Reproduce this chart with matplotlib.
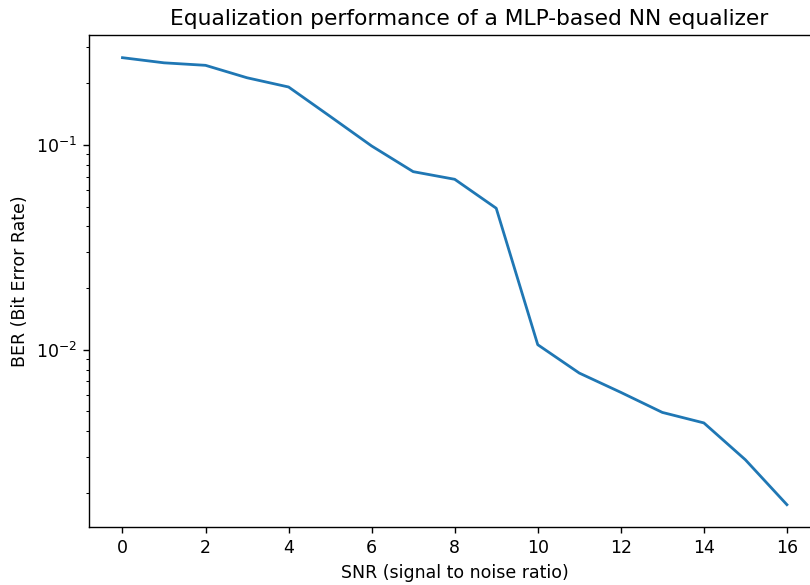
import matplotlib
matplotlib.use("Agg")
import matplotlib.pyplot as plt

# SNR sweep (dB) and measured bit error rate of the MLP equalizer
snr = list(range(17))
ber = [0.267, 0.252, 0.245, 0.213, 0.192, 0.138, 0.0989, 0.0741, 0.0680,
       0.0491, 0.01058, 0.00769, 0.00619, 0.00494, 0.00439, 0.00290, 0.00175]

fig = plt.figure(figsize=(6.48, 4.68), dpi=125)
ax = fig.add_axes([0.1102, 0.0991, 0.9023, 0.8405])

ax.plot(snr, ber, linewidth=1.6)
ax.set_yscale("log")
ax.set_xticks(range(0, 17, 2))

title = ax.set_title("Equalization performance of a MLP-based NN equalizer", fontsize=12.5)
title.set_x(0.52)
ax.set_xlabel("SNR (signal to noise ratio)")
ax.set_ylabel("BER (Bit Error Rate)")

fig.savefig("out.png", dpi=125)
